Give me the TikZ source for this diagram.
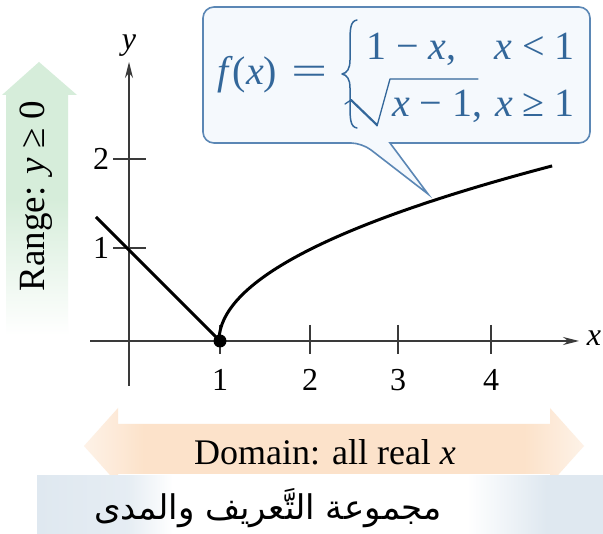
\documentclass[tikz,border=0pt]{standalone}
\usepackage{fontspec}
\setmainfont{Liberation Serif}
\newfontfamily\arabicfont[Script=Arabic]{DejaVu Sans}
\TeXXeTstate=1
\usetikzlibrary{arrows.meta}
\definecolor{axisgray}{HTML}{3A3A3A}
\definecolor{boxborder}{HTML}{5B87B5}
\definecolor{boxfill}{HTML}{F5F9FD}
\definecolor{formulablue}{HTML}{33679A}
\definecolor{rangegreen}{HTML}{D6EDDA}
\definecolor{domainpeach}{HTML}{FCE2CA}
\definecolor{bandblue}{HTML}{DFE8F0}
\pgfdeclarehorizontalshading{bandshade}{100bp}{color(0bp)=(bandblue); color(25bp)=(bandblue); color(33bp)=(bandblue!80); color(37bp)=(white); color(63bp)=(white); color(70bp)=(bandblue); color(75bp)=(bandblue); color(100bp)=(bandblue)}
\pgfdeclarehorizontalshading{domainshade}{100bp}{color(0bp)=(domainpeach!45); color(25bp)=(domainpeach!45); color(31bp)=(domainpeach); color(69bp)=(domainpeach); color(75bp)=(domainpeach!45); color(100bp)=(domainpeach!45)}
\begin{document}
\begin{tikzpicture}[x=1pt,y=-1pt,
  axis/.style={draw=axisgray,line width=1.3pt},
  tickmark/.style={draw=axisgray,line width=1.2pt},
  ticklabel/.style={font=\fontsize{32}{36}\selectfont,text=black,inner sep=0pt},
  curve/.style={draw=black,line width=3pt},
  fm/.style={font=\fontsize{40}{46}\selectfont,text=formulablue,inner sep=0pt},
  fmline/.style={draw=formulablue,line width=1.6pt,line cap=round,line join=round},
  callout/.style={draw=boxborder,fill=boxfill,line width=1.6pt},
  bigtext/.style={font=\fontsize{36}{42}\selectfont,text=black,inner sep=0pt}]
\useasboundingbox (0,0) rectangle (603,534);
\fill[white] (0,0) rectangle (603,534);

% range arrow
\shade[top color=rangegreen,bottom color=white,middle color=rangegreen]
  (6,335) -- (6,95) -- (2,95) -- (39,62) -- (77,95) -- (68,95) -- (68,335) -- cycle;
\node[bigtext,rotate=90,font=\fontsize{37}{42}\selectfont] (range) at (36,196) {Range: \textit{y} ≥ 0};

% domain arrow
\shade[shading=domainshade]
  (84,446) -- (118,408) -- (118,424) -- (550,424) -- (550,408) -- (584,446) -- (550,484) -- (550,474) -- (118,474) -- (118,484) -- cycle;
\node[bigtext] (domain) at (325,452) {Domain: all real \textit{x}};

% arabic band
\shade[shading=bandshade] (37,476) rectangle (603,534);
\node[inner sep=0pt,font=\arabicfont\fontsize{34}{40}\selectfont] (arabic) at (268,508) {\beginR مجموعة التَّعريف والمدى\endR};

% axes
\coordinate (xl) at (90,341);
\coordinate (xr) at (579,341);
\coordinate (yb) at (129,386);
\coordinate (yt) at (129,62);
\draw[axis,-{Stealth[length=16pt,width=8pt]}] (xl) -- (xr);
\draw[axis,-{Stealth[length=16pt,width=8pt]}] (yb) -- (yt);
\node[ticklabel,font=\itshape\fontsize{32}{36}\selectfont] (xlab) at (594,338) {x};
\node[ticklabel,font=\itshape\fontsize{32}{36}\selectfont] (ylab) at (129,46) {y};

% x ticks
\foreach \px/\lab in {220/1,310/2,398/3,491/4}{
  \coordinate (tt\lab) at (\px,325);
  \coordinate (tb\lab) at (\px,354);
  \draw[tickmark] (tt\lab) -- (tb\lab);
  \node[ticklabel] (xt\lab) at (\px,380) {\lab};
}
% y ticks
\foreach \py/\lab in {248/1,159/2}{
  \coordinate (tl\lab) at (113,\py);
  \coordinate (tr\lab) at (146,\py);
  \draw[tickmark] (tl\lab) -- (tr\lab);
  \node[ticklabel] (yt\lab) at (101,\py) {\lab};
}

% callout
\coordinate (tip) at (428,194);
\draw[callout] (470,143) [rounded corners=11pt] -- (590,143) -- (590,7) -- (203,7) -- (203,143) -- (362,143) [sharp corners] -- (tip) -- (390,143) -- cycle;
\node[fm,anchor=base west] (fx) at (217,85) {\textit{f}(\textit{x})};
\node[fm,anchor=base] (eq) at (310,85) {\scalebox{1.6}[1]{=}};
% brace
\draw[fmline,line width=1.5pt] (357,20) .. controls (350,21) and (350,30) .. (350,44) -- (350,60)
  .. controls (350,69) and (347,73) .. (342,74) .. controls (347,75) and (350,79) .. (350,88)
  -- (350,104) .. controls (350,118) and (350,127) .. (357,128);
\node[fm,anchor=base west] (r1a) at (366,60) {1 − \textit{x},};
\node[fm,anchor=base east] (r1b) at (575,60) {\textit{x} < 1};
% radical
\draw[fmline,line width=1.3pt] (345,104) -- (351,100);
\draw[fmline,line width=2.2pt] (351,100) -- (377,125);
\draw[fmline,line width=1.3pt] (377,126) -- (390,79) -- (478,79);
\node[fm,anchor=base west] (r2a) at (392,117) {\textit{x} − 1,};
\node[fm,anchor=base east] (r2b) at (575,117) {\textit{x} ≥ 1};

% graph
\coordinate (lstart) at (96,217);
\coordinate (cusp) at (220,341);
\draw[curve] (lstart) -- (cusp);
\draw[curve] plot[domain=0:1.925,samples=80,smooth] ({129+90*(1+\x*\x)},{341-91*\x});
\fill[black] (cusp) circle (6.5pt);
\end{tikzpicture}
\end{document}
